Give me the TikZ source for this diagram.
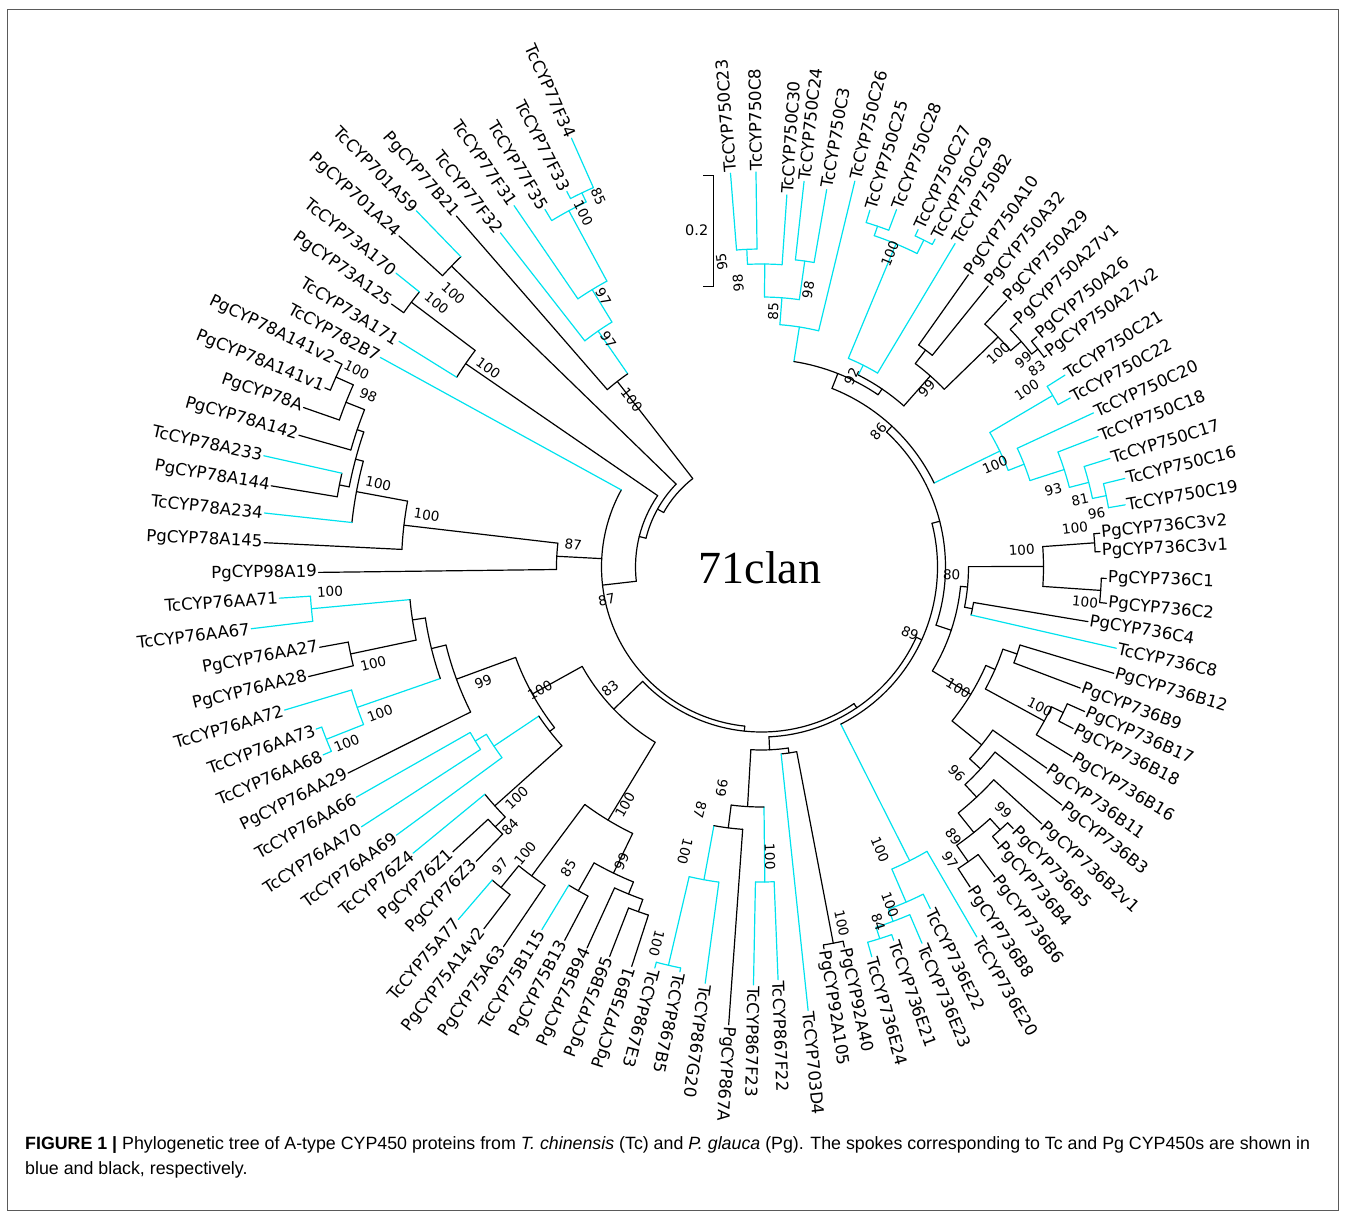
\documentclass[tikz,border=0pt]{standalone}
\usepackage{fontspec}
\newfontfamily\dvs{DejaVu Sans}
\newfontfamily\lsans{Liberation Sans}
\newfontfamily\lserif{Liberation Serif}
\definecolor{tcyan}{RGB}{0,226,238}
\definecolor{framegray}{RGB}{90,90,90}
\tikzset{
  tc/.style={draw=tcyan, line width=1.2pt, line cap=round},
  pg/.style={draw=black, line width=1.2pt, line cap=round},
  lab/.style={font=\dvs\fontsize{16.6}{18}\selectfont, inner sep=1.5pt},
  bsl/.style={font=\dvs\fontsize{13.6}{15}\selectfont, inner sep=0pt},
}
% leaf, label outward
\newcommand\LO[6]{\draw[#5] (#2:#3pt) -- (#2:#4pt);
  \node[lab, rotate=#2, anchor=west] (#1) at (#2:#4pt) {#6};}
% leaf, label inward
\newcommand\LI[6]{\draw[#5] (#2:#3pt) -- (#2:#4pt);
  \node[lab, rotate=#2+180, anchor=east] (#1) at (#2:#4pt) {#6};}
% internal node: r, a1, a2, stem angle, parent r, style
\newcommand\IN[6]{\draw[#6] (#2:#1pt) arc[start angle=#2, end angle=#3, radius=#1pt];
  \draw[#6] (#4:#5pt) -- (#4:#1pt);}
% bootstrap value at image position
\newcommand\BS[4]{\pgfmathsetmacro\bx{#2-761.5}\pgfmathsetmacro\by{567-#3}%
  \pgfmathsetmacro\ba{atan2(\by,\bx)}%
  \pgfmathsetmacro\br{or(\ba>100,\ba<-106) ? \ba+180 : \ba}%
  \node[bsl, rotate=\br] (#1) at (\bx,\by) {#4};}
\begin{document}
\begin{tikzpicture}[x=1pt,y=1pt]
\useasboundingbox (-761.5,-648) rectangle (584.5,567);
\draw[framegray, line width=1pt] (-753.5,557) rectangle (576.5,-643);

% ---------- internal branches ----------
% 750 clade I
\IN{318}{90.8}{94.5}{92.65}{303}{tc}
\IN{303}{86.1}{92.65}{89.375}{270}{tc}
\IN{309}{80.2}{83.7}{81.95}{270}{tc}
\IN{270}{81.95}{89.375}{85.66}{243}{tc}
\IN{243}{76.4}{85.66}{81.03}{208}{tc}
\IN{360}{69.3}{73.1}{71.2}{350}{tc}
\IN{365}{62.1}{65.1}{63.6}{350}{tc}
\IN{350}{63.6}{71.2}{67.4}{226}{tc}
\IN{226}{59.1}{67.4}{63.25}{215}{tc}
% 750A
\IN{272}{51.1}{54.7}{52.9}{255}{pg}
\IN{352}{36.6}{39.9}{38.25}{344}{pg}
\IN{344}{38.25}{43.7}{40.975}{330}{pg}
\IN{330}{40.975}{47.4}{44.19}{255}{pg}
\IN{255}{44.19}{52.9}{48.54}{215}{pg}
\IN{215}{48.54}{63.25}{55.9}{208}{pg}
\IN{208}{55.9}{81.03}{68.46}{192}{pg}
% 750C
\IN{338}{28.7}{32.3}{30.5}{265}{tc}
\IN{352}{9.7}{13.7}{11.7}{338}{tc}
\IN{338}{11.7}{17.3}{14.5}{318}{tc}
\IN{318}{14.5}{21.2}{17.85}{282}{tc}
\IN{282}{17.85}{24.9}{21.375}{265}{tc}
\IN{265}{21.375}{30.5}{25.94}{192}{tc}
\IN{192}{25.94}{68.46}{47.2}{184}{pg}
% 736C
\IN{334}{2.6}{5.7}{4.15}{282}{pg}
\IN{340}{-6.0}{-1.9}{-3.95}{282}{pg}
\IN{282}{-3.95}{4.15}{0.1}{207}{pg}
\IN{215}{-12.9}{-9.5}{-11.2}{207}{pg}
\IN{207}{-11.2}{0.1}{-5.55}{200}{pg}
% 736B
\IN{270}{-20.8}{-16.8}{-18.8}{255}{pg}
\IN{335}{-27.4}{-24.1}{-25.75}{322}{pg}
\IN{322}{-31.4}{-25.75}{-28.575}{255}{pg}
\IN{255}{-28.575}{-18.8}{-23.69}{245}{pg}
\IN{355}{-49.4}{-46.1}{-47.75}{340}{pg}
\IN{360}{-56.9}{-53.0}{-54.95}{340}{pg}
\IN{340}{-54.95}{-47.75}{-51.35}{315}{pg}
\IN{315}{-51.35}{-42.5}{-46.925}{298}{pg}
\IN{298}{-46.925}{-38.4}{-42.66}{283}{pg}
\IN{283}{-42.66}{-35.2}{-38.93}{245}{pg}
\IN{245}{-38.93}{-23.69}{-31.31}{200}{pg}
\IN{200}{-31.31}{-5.55}{-18.43}{184}{pg}
\IN{184}{-18.43}{47.2}{14.385}{176}{pg}
% 736E
\IN{390}{-74.2}{-70.5}{-72.35}{378}{tc}
\IN{378}{-72.35}{-66.9}{-69.625}{365}{tc}
\IN{365}{-69.625}{-63.7}{-66.66}{329}{tc}
\IN{329}{-66.66}{-59.8}{-63.23}{176}{tc}
\IN{176}{-63.23}{14.385}{-24.42}{170}{pg}
% 867 / 92A / 703
\IN{383}{-80.7}{-77.7}{-79.2}{188}{pg}
\IN{188}{-84.0}{-79.2}{-81.6}{183}{pg}
\IN{409}{-104.9}{-101.4}{-103.15}{318}{tc}
\IN{318}{-103.15}{-97.7}{-100.425}{263}{tc}
\IN{263}{-100.425}{-94.1}{-97.26}{240}{pg}
\IN{315}{-91.1}{-87.7}{-89.4}{240}{tc}
\IN{240}{-97.26}{-89.4}{-93.33}{183}{pg}
\IN{183}{-93.33}{-81.6}{-87.47}{170}{pg}
\IN{170}{-87.47}{-24.42}{-55.9}{165}{pg}
% 75 / 76
\IN{413}{229.3}{232.5}{230.9}{385}{pg}
\IN{385}{230.9}{235.8}{233.35}{296}{pg}
\IN{372}{238.8}{242.2}{240.5}{340}{pg}
\IN{366}{248.7}{252.0}{250.35}{353}{pg}
\IN{353}{245.4}{250.35}{247.875}{340}{pg}
\IN{340}{240.5}{247.875}{244.19}{296}{pg}
\IN{296}{233.35}{244.19}{238.77}{205}{pg}
\IN{372}{222.7}{225.9}{224.3}{358}{pg}
\IN{358}{219.4}{224.3}{221.85}{268}{pg}
\IN{335}{209.6}{213.0}{211.3}{322}{tc}
\IN{322}{211.3}{216.3}{213.8}{268}{tc}
\IN{268}{213.8}{221.85}{217.825}{262}{pg}
\IN{452}{183.7}{186.9}{185.3}{353}{tc}
\IN{420}{190.3}{193.6}{191.95}{353}{pg}
\IN{353}{185.3}{191.95}{188.625}{340}{pg}
\IN{468}{200.0}{203.2}{201.6}{428}{tc}
\IN{428}{196.7}{201.6}{199.15}{340}{tc}
\IN{340}{188.625}{199.15}{193.89}{325}{pg}
\IN{325}{193.89}{206.5}{200.19}{262}{pg}
\IN{262}{200.19}{217.825}{209.0}{205}{pg}
\IN{205}{209.0}{238.77}{223.9}{165}{pg}
\IN{165}{223.9}{304.1}{264.0}{160}{pg}
% 78 / 98
\IN{466}{154.2}{157.7}{155.95}{447}{pg}
\IN{447}{155.95}{160.8}{158.375}{427}{pg}
\IN{427}{158.375}{164.1}{161.24}{420}{pg}
\IN{430}{167.4}{170.6}{169.0}{420}{pg}
\IN{420}{161.24}{169.0}{165.12}{412}{pg}
\IN{412}{165.12}{173.8}{169.46}{360}{pg}
\IN{360}{169.46}{177.2}{173.33}{205}{pg}
\IN{205}{173.33}{180.7}{177.0}{160}{pg}
\IN{160}{151.2}{264.0}{186.5}{126}{pg}
% 73 / 701 / 77
\IN{439}{141.2}{144.6}{142.9}{359}{pg}
\IN{359}{142.9}{148.1}{145.5}{126}{pg}
\IN{126}{145.5}{186.5}{166.0}{119}{pg}
\IN{432}{134.1}{137.6}{135.85}{119}{pg}
\IN{119}{135.85}{166.0}{150.9}{112}{pg}
\IN{415}{113.9}{117.4}{115.65}{405}{tc}
\IN{405}{115.65}{121.2}{118.4}{325}{tc}
\IN{325}{118.4}{124.4}{121.4}{287}{tc}
\IN{287}{121.4}{128.0}{124.7}{235}{tc}
\IN{235}{124.7}{131.0}{127.85}{112}{pg}
\draw[pg] (127.85:112pt) arc[start angle=127.85, end angle=150.9, radius=112pt];

% ---------- leaves ----------
\LO{l0}{94.5}{318}{395}{tc}{TcCYP750C23}
\LO{l1}{90.8}{318}{395}{tc}{TcCYP750C8}
\LO{l2}{86.1}{303}{373}{tc}{TcCYP750C30}
\LO{l3}{83.7}{309}{388}{tc}{TcCYP750C24}
\LO{l4}{80.2}{309}{383}{tc}{TcCYP750C3}
\LO{l5}{76.4}{243}{397}{tc}{TcCYP750C26}
\LO{l6}{73.1}{360}{373}{tc}{TcCYP750C25}
\LO{l7}{69.3}{360}{382}{tc}{TcCYP750C28}
\LO{l8}{65.1}{365}{372}{tc}{TcCYP750C27}
\LO{l9}{62.1}{365}{371}{tc}{TcCYP750C29}
\LO{l10}{59.1}{226}{377}{tc}{TcCYP750B2}
\LO{l11}{54.7}{272}{358}{pg}{PgCYP750A10}
\LO{l12}{51.1}{272}{361}{pg}{PgCYP750A32}
\LO{l13}{47.4}{330}{362}{pg}{PgCYP750A29}
\LO{l14}{43.7}{344}{353}{pg}{PgCYP750A27v1}
\LO{l15}{39.9}{352}{359}{pg}{PgCYP750A26}
\LO{l16}{36.6}{352}{355}{pg}{PgCYP750A27v2}
\LO{l17}{32.3}{338}{359}{tc}{TcCYP750C21}
\LO{l18}{28.7}{338}{352}{tc}{TcCYP750C22}
\LO{l19}{24.9}{282}{366}{tc}{TcCYP750C20}
\LO{l20}{21.2}{318}{361}{tc}{TcCYP750C18}
\LO{l21}{17.3}{338}{365}{tc}{TcCYP750C17}
\LO{l22}{13.7}{352}{374}{tc}{TcCYP750C16}
\LO{l23}{9.7}{352}{369}{tc}{TcCYP750C19}
\LO{l24}{5.7}{334}{340}{pg}{PgCYP736C3v2}
\LO{l25}{2.6}{334}{339}{pg}{PgCYP736C3v1}
\LO{l26}{-1.9}{340}{345}{pg}{PgCYP736C1}
\LO{l27}{-6.0}{340}{347}{pg}{PgCYP736C2}
\LO{l28}{-9.5}{215}{331}{pg}{PgCYP736C4}
\LO{l29}{-12.9}{215}{364}{tc}{TcCYP736C8}
\LO{l30}{-16.8}{270}{368}{pg}{PgCYP736B12}
\LO{l31}{-20.8}{270}{341}{pg}{PgCYP736B9}
\LO{l32}{-24.1}{335}{354}{pg}{PgCYP736B17}
\LO{l33}{-27.4}{335}{351}{pg}{PgCYP736B18}
\LO{l34}{-31.4}{322}{364}{pg}{PgCYP736B16}
\LO{l35}{-35.2}{283}{349}{pg}{PgCYP736B11}
\LO{l36}{-38.4}{298}{383}{pg}{PgCYP736B3}
\LO{l37}{-42.5}{315}{380}{pg}{PgCYP736B2v1}
\LO{l38}{-46.1}{355}{363}{pg}{PgCYP736B5}
\LO{l39}{-49.4}{355}{364}{pg}{PgCYP736B4}
\LO{l40}{-53.0}{360}{388}{pg}{PgCYP736B6}
\LO{l41}{-56.9}{360}{382}{pg}{PgCYP736B8}
\LO{l42}{-59.8}{329}{428}{tc}{TcCYP736E20}
\LO{l43}{-63.7}{365}{381}{tc}{TcCYP736E22}
\LO{l44}{-66.9}{378}{409}{tc}{TcCYP736E23}
\LO{l45}{-70.5}{390}{396}{tc}{TcCYP736E21}
\LO{l46}{-74.2}{390}{405}{tc}{TcCYP736E24}
\LO{l47}{-77.7}{383}{389}{pg}{PgCYP92A40}
\LO{l48}{-80.7}{383}{387}{pg}{PgCYP92A105}
\LO{l49}{-84.0}{188}{446}{tc}{TcCYP703D4}
\LO{l50}{-87.7}{315}{413}{tc}{TcCYP867F22}
\LO{l51}{-91.1}{315}{418}{tc}{TcCYP867F23}
\LO{l52}{-94.1}{263}{459}{pg}{PgCYP867A}
\LO{l53}{-97.7}{318}{420}{tc}{TcCYP867G20}
\LO{l54}{-101.4}{409}{413}{tc}{TcCYP867B5}
\LO{l55}{-104.9}{409}{415}{tc}{TcCYP867E3}
\LI{l56}{252.0}{366}{420}{pg}{PgCYP75B91}
\LI{l57}{248.7}{366}{418}{pg}{PgCYP75B95}
\LI{l58}{245.4}{353}{419}{pg}{PgCYP75B94}
\LI{l59}{242.2}{372}{422}{pg}{PgCYP75B13}
\LI{l60}{238.8}{372}{424}{tc}{TcCYP75B115}
\LI{l61}{235.8}{385}{459}{pg}{PgCYP75A63}
\LI{l62}{232.5}{413}{456}{pg}{PgCYP75A14v2}
\LI{l63}{229.3}{413}{465}{tc}{TcCYP75A77}
\LI{l64}{225.9}{372}{410}{pg}{PgCYP76Z3}
\LI{l65}{222.7}{372}{420}{pg}{PgCYP76Z1}
\LI{l66}{219.4}{358}{451}{tc}{TcCYP76Z4}
\LI{l67}{216.3}{322}{453}{tc}{TcCYP76AA69}
\LI{l68}{213.0}{335}{477}{tc}{TcCYP76AA70}
\LI{l69}{209.6}{335}{466}{tc}{TcCYP76AA66}
\LI{l70}{206.5}{325}{462}{pg}{PgCYP76AA29}
\LI{l71}{203.2}{468}{477}{tc}{TcCYP76AA68}
\LI{l72}{200.0}{468}{474}{tc}{TcCYP76AA73}
\LI{l73}{196.7}{428}{498}{tc}{TcCYP76AA72}
\LI{l74}{193.6}{420}{466}{pg}{PgCYP76AA28}
\LI{l75}{190.3}{420}{449}{pg}{PgCYP76AA27}
\LI{l76}{186.9}{452}{514}{tc}{TcCYP76AA67}
\LI{l77}{183.7}{452}{483}{tc}{TcCYP76AA71}
\LI{l78}{180.7}{205}{443}{pg}{PgCYP98A19}
\LI{l79}{177.2}{360}{498}{pg}{PgCYP78A145}
\LI{l80}{173.8}{412}{500}{tc}{TcCYP78A234}
\LI{l81}{170.6}{430}{497}{pg}{PgCYP78A144}
\LI{l82}{167.4}{430}{510}{tc}{TcCYP78A233}
\LI{l83}{164.1}{427}{481}{pg}{PgCYP78A142}
\LI{l84}{160.8}{447}{485}{pg}{PgCYP78A}
\LI{l85}{157.7}{466}{472}{pg}{PgCYP78A141v1}
\LI{l86}{154.2}{466}{474}{pg}{PgCYP78A141v2}
\LI{l87}{151.2}{160}{435}{tc}{TcCYP782B7}
\LI{l88}{148.1}{359}{427}{tc}{TcCYP73A171}
\LI{l89}{144.6}{439}{454}{pg}{PgCYP73A125}
\LI{l90}{141.2}{439}{469}{tc}{TcCYP73A170}
\LI{l91}{137.6}{432}{491}{pg}{PgCYP701A24}
\LI{l92}{134.1}{432}{496}{tc}{TcCYP701A59}
\LI{l93}{131.0}{235}{465}{pg}{PgCYP77B21}
\LI{l94}{128.0}{287}{424}{tc}{TcCYP77F32}
\LI{l95}{124.4}{325}{438}{tc}{TcCYP77F31}
\LI{l96}{121.2}{405}{418}{tc}{TcCYP77F35}
\LI{l97}{117.4}{415}{423}{tc}{TcCYP77F33}
\LI{l98}{113.9}{415}{469}{tc}{TcCYP77F34}

% ---------- bootstrap values ----------
\BS{b1}{598.3}{196.7}{85}
\BS{b2}{583.3}{213.3}{100}
\BS{b3}{603.3}{296.7}{97}
\BS{b4}{608.3}{340}{97}
\BS{b5}{631.7}{400}{100}
\BS{b6}{453.3}{293.3}{100}
\BS{b7}{436.7}{303.3}{100}
\BS{b8}{488.3}{368.3}{100}
\BS{b9}{356.7}{370}{100}
\BS{b10}{368.3}{395}{98}
\BS{b11}{378.3}{483.3}{100}
\BS{b12}{426.7}{515}{100}
\BS{b13}{573.3}{545}{87}
\BS{b14}{606.7}{600}{87}
\BS{b15}{330}{591.7}{100}
\BS{b16}{373.3}{663.3}{100}
\BS{b17}{380}{713.3}{100}
\BS{b18}{346.7}{743.3}{100}
\BS{b19}{483.3}{681.7}{99}
\BS{b20}{540}{690}{100}
\BS{b21}{516.7}{798.3}{100}
\BS{b22}{510}{826.7}{84}
\BS{b23}{610}{688.3}{83}
\BS{b24}{500}{866.7}{97}
\BS{b25}{525}{853.3}{100}
\BS{b26}{568.3}{868.3}{85}
\BS{b27}{621.7}{861.7}{99}
\BS{b28}{625}{805}{100}
\BS{b29}{656.7}{943.3}{100}
\BS{b30}{685}{851.7}{100}
\BS{b31}{700}{810}{87}
\BS{b32}{770}{856.7}{100}
\BS{b33}{721.7}{788.3}{99}
\BS{b34}{841.7}{923.3}{100}
\BS{b35}{878.3}{921.7}{84}
\BS{b36}{890}{905}{100}
\BS{b37}{880}{850}{100}
\BS{b38}{910}{633}{89}
\BS{b39}{1040}{706.7}{100}
\BS{b40}{958.3}{688.3}{100}
\BS{b41}{956.7}{773.3}{96}
\BS{b42}{1003.3}{810}{99}
\BS{b43}{953.3}{837}{89}
\BS{b44}{950}{860}{97}
\BS{b45}{951.7}{575}{80}
\BS{b46}{1021.7}{550}{100}
\BS{b47}{1075}{528.3}{100}
\BS{b48}{1085}{601.7}{100}
\BS{b49}{1026.7}{390}{100}
\BS{b50}{995}{465}{100}
\BS{b51}{1053.3}{490}{93}
\BS{b52}{1080}{500}{81}
\BS{b53}{1096.7}{513.3}{96}
\BS{b54}{998.3}{353.3}{100}
\BS{b55}{1023.3}{360}{99}
\BS{b56}{1036.7}{368.3}{83}
\BS{b57}{926.7}{388.3}{99}
\BS{b58}{878.3}{431.7}{86}
\BS{b59}{851.7}{376.7}{92}
\BS{b60}{890}{253.3}{100}
\BS{b61}{721.7}{261.7}{95}
\BS{b62}{738.3}{283.3}{98}
\BS{b63}{808.3}{290}{98}
\BS{b64}{773.3}{311.7}{85}

% ---------- scale bar, title ----------
\draw[pg, line cap=butt] (-58.2,391.3) -- (-48.2,391.3) -- (-48.2,280.3) -- (-58.2,280.3);
\node[font=\dvs\fontsize{14.5}{16}\selectfont, inner sep=0pt] (sb) at (-64.8,337) {0.2};
\node[font=\lserif\fontsize{46}{50}\selectfont, inner sep=0pt] (clan) at (-1.5,-1) {71clan};

% ---------- caption ----------
\node[anchor=base west, inner sep=0pt, font=\lsans\fontsize{17.8}{21}\selectfont] (cap1) at (-736.5,-582)
 {\textbf{FIGURE 1 |} Phylogenetic tree of A-type CYP450 proteins from \textit{T. chinensis} (Tc) and \textit{P. glauca} (Pg). The spokes corresponding to Tc and Pg CYP450s are shown in};
\node[anchor=base west, inner sep=0pt, font=\lsans\fontsize{17.8}{21}\selectfont] (cap2) at (-736.5,-607)
 {blue and black, respectively.};
\end{tikzpicture}
\end{document}
